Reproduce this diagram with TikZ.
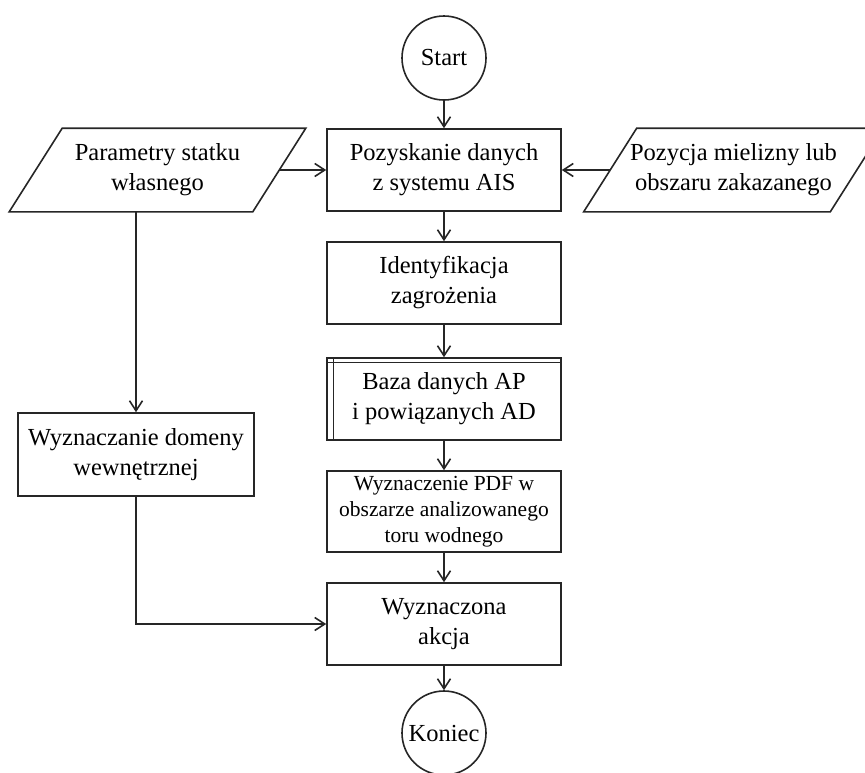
\documentclass[tikz,border=0pt]{standalone}
\usepackage{fontspec}
\setmainfont{Liberation Serif}
\usetikzlibrary{arrows.meta}
\begin{document}
\begin{tikzpicture}[x=1pt,y=-1pt,
  every node/.style={draw=black!85, line width=1.6pt},
  txt/.style={font=\fontsize{24.5}{30}\selectfont},
  proc/.style={txt, draw, rectangle, minimum width=234pt, minimum height=82pt, inner sep=0pt, align=center},
  term/.style={txt, draw, circle, minimum size=84pt, inner sep=0pt},
  io/.style={txt, draw=none, rectangle, minimum height=82pt, inner sep=0pt, align=center},
  ln/.style={draw=black!85, line width=1.6pt},
  flow/.style={ln, -{Straight Barb[length=10pt,width=13pt]}},
]
\useasboundingbox (0,0) rectangle (865,772);
\clip (0,0) rectangle (865,772);

% main column
\node[term] (start) at (444,58) {Start};
\node[proc] (b1) at (444,170) {Pozyskanie danych\\z systemu AIS};
\node[proc] (b2) at (444,283) {Identyfikacja\\zagrożenia};
\node[proc] (b3) at (444,399) {Baza danych AP\\i powiązanych AD};
\node[proc, font=\fontsize{21.5}{26}\selectfont, minimum height=81pt] (b4) at (444,511.5)
  {Wyznaczenie PDF w\\obszarze analizowanego\\toru wodnego};
\node[proc] (b5) at (444,624) {Wyznaczona\\akcja};
\node[term] (end) at (444,733) {Koniec};

% predefined-process marks on the database box
\draw[ln, line width=1.2pt] ([xshift=7pt]b3.north west) -- ([xshift=7pt]b3.south west);
\draw[ln, line width=1.2pt] ([yshift=-5pt]b3.north west) -- ([yshift=-5pt]b3.north east);

% input parallelograms
\node[io, minimum width=242pt] (pL) at (157.5,170) {Parametry statku\\własnego};
\draw[ln] ([xshift=26.5pt]pL.north west) -- ([xshift=26.5pt]pL.north east)
  -- ([xshift=-26.5pt]pL.south east) -- ([xshift=-26.5pt]pL.south west) -- cycle;

\node[io, minimum width=245pt] (pR) at (733.5,170) {Pozycja mielizny lub\\obszaru zakazanego};
\draw[ln] ([xshift=26.5pt]pR.north west) -- ([xshift=26.5pt]pR.north east)
  -- ([xshift=-26.5pt]pR.south east) -- ([xshift=-26.5pt]pR.south west) -- cycle;

% side branch
\node[proc, minimum width=236pt, minimum height=83pt] (dom) at (136,454.5) {Wyznaczanie domeny\\wewnętrznej};

% connectors
\draw[flow] (start) -- (b1);
\draw[flow] (b1) -- (b2);
\draw[flow] (b2) -- (b3);
\draw[flow] (b3) -- (b4);
\draw[flow] (b4) -- (b5);
\draw[flow] (b5) -- (end);
\draw[flow] (pL.east) -- (b1.west);
\draw[flow] (pR.west) -- (b1.east);
\draw[flow] (dom.north |- pL.south) -- (dom.north);
\draw[flow] (dom.south) |- (b5.west);
\end{tikzpicture}
\end{document}
